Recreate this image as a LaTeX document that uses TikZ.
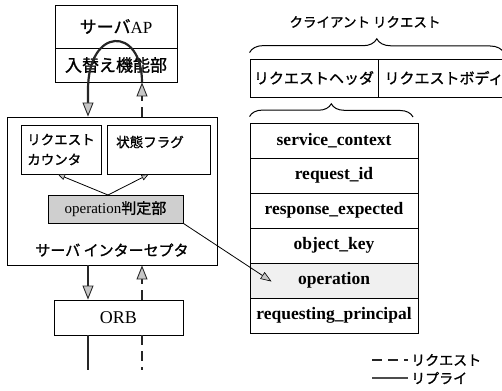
\documentclass[tikz,border=0pt]{standalone}
\usepackage{fontspec}
\setmainfont{Liberation Serif}
\newfontfamily\jp[FakeBold=1.2]{Noto Sans CJK JP}
\usetikzlibrary{arrows.meta,decorations.pathreplacing,calc}

\tikzset{
  gtip/.tip={Triangle[length=14pt,width=11pt,fill=gray!45,line width=0.9pt]},
  stip/.tip={Triangle[length=7pt,width=6pt,fill=gray!45,line width=0.6pt]},
  frame/.style={draw=black, line width=0.9pt, inner sep=0pt},
  field/.style={frame, minimum width=168pt, minimum height=35pt,
    font=\bfseries\fontsize{17.5}{20}\selectfont},
  reply/.style={draw=black!85, line width=2.2pt},
  request/.style={draw=black!85, line width=2.2pt, dash pattern=on 10pt off 6pt},
  thinarrow/.style={draw=black, line width=0.8pt},
  brace/.style={decorate, line width=1pt,
    decoration={brace, amplitude=#1, aspect=0.5}},
  jpbig/.style={font=\jp\fontsize{17}{20}\selectfont},
  jpmid/.style={font=\jp\fontsize{15}{18}\selectfont},
  jpsmall/.style={font=\jp\fontsize{13.5}{20}\selectfont},
}

\begin{document}
\begin{tikzpicture}[x=1pt,y=-1pt]
\useasboundingbox (0,0) rectangle (502,390);
\clip (0,0) rectangle (502,390);
\fill[white] (0,0) rectangle (502,390);

% columns of the request / reply flow
\coordinate (colL) at (88,0);
\coordinate (colR) at (142,0);

% server application
\node[frame, minimum width=122pt, minimum height=43pt, jpbig] (ap) at (116,26.5) {サーバ{\rmfamily AP}};
\node[frame, minimum width=122pt, minimum height=34pt, jpbig] (swap) at (116,65) {入替え機能部};

% server interceptor
\node[frame, minimum width=210pt, minimum height=148pt] (icp) at (112,191) {};
\node[frame, minimum width=80pt, minimum height=49pt, jpsmall, align=left] (cnt) at (61,149.5) {リクエスト\\カウンタ};
\node[frame, minimum width=103pt, minimum height=49pt] (flag) at (158.5,149.5) {};
\node[jpsmall, inner sep=0pt] (flagtxt) at (150,142) {状態フラグ};
\node[frame, fill=gray!38, minimum width=135pt, minimum height=28pt,
      font=\fontsize{15}{18}\selectfont] (opj) at (115.5,209) {operation{\jp 判定部}};
\node[jpmid, inner sep=0pt] (icplbl) at (112,250) {サーバ インターセプタ};

% ORB
\node[frame, minimum width=129pt, minimum height=35pt, font=\fontsize{18}{20}\selectfont] (orb) at (118.5,317.5) {ORB};
\coordinate (outL) at (88,370);
\coordinate (outR) at (142,370);

% flow between AP, interceptor and ORB
\draw[reply, -{gtip}] (swap.south -| colR) .. controls (142,26) and (88,26) .. (88,90) -- (icp.north -| colL);
\draw[request, -{gtip}] (icp.north -| colR) -- (swap.south -| colR);
\draw[reply, -{gtip}] (icp.south -| colL) -- (orb.north -| colL);
\draw[request, -{gtip}] (orb.north -| colR) -- (icp.south -| colR);
\draw[reply] (orb.south -| colL) -- (outL);
\draw[request] (orb.south -| colR) -- (outR);

% operation judge consults counter and flag
\coordinate (fork) at (108,195);
\draw[thinarrow, -{stip}] (fork) -- ($(cnt.south)+(-3,0)$);
\draw[thinarrow, -{stip}] (fork) -- ($(flag.south)+(-10,0)$);

% client request
\node[jpsmall, inner sep=0pt] (title) at (365,22) {クライアント リクエスト};
\node[frame, minimum width=128pt, minimum height=38pt, jpmid] (hdr) at (314,78) {リクエストヘッダ};
\node[frame, minimum width=132pt, minimum height=38pt, jpmid] (body) at (444,78) {リクエストボディ};
\coordinate (bigR) at (504,53);
\draw[brace=14pt] ($(hdr.north west)+(0,-6)$) -- (bigR);

% request header fields
\node[field] (f1) at (334,140.5) {service\_context};
\node[field] (f2) at (334,175.5) {request\_id};
\node[field] (f3) at (334,210.5) {response\_expected};
\node[field] (f4) at (334,245.5) {object\_key};
\node[field, fill=gray!12] (f5) at (334,280.5) {operation};
\node[field] (f6) at (334,315.5) {requesting\_principal};
\coordinate (hdrR) at (413,117);
\draw[brace=13pt] ($(f1.north west)+(0,-6)$) -- (hdrR);

\draw[thinarrow, -{Triangle[length=11pt,width=8pt,fill=gray!45,line width=0.6pt]}] (opj.south east) -- ($(f5.west)+(22,1)$);

% legend
\coordinate (lgA1) at (372,360);
\coordinate (lgA2) at (408,360);
\coordinate (lgB1) at (372,378);
\coordinate (lgB2) at (408,378);
\draw[draw=black!85, line width=2.5pt, dash pattern=on 10pt off 6pt] (lgA1) -- (lgA2);
\draw[draw=black!70, line width=1.6pt] (lgB1) -- (lgB2);
\node[font=\jp\fontsize{14}{16}\selectfont, anchor=west, inner sep=0pt] (lgA) at (411,360) {リクエスト};
\node[font=\jp\fontsize{14}{16}\selectfont, anchor=west, inner sep=0pt] (lgB) at (411,378) {リプライ};
\end{tikzpicture}
\end{document}
